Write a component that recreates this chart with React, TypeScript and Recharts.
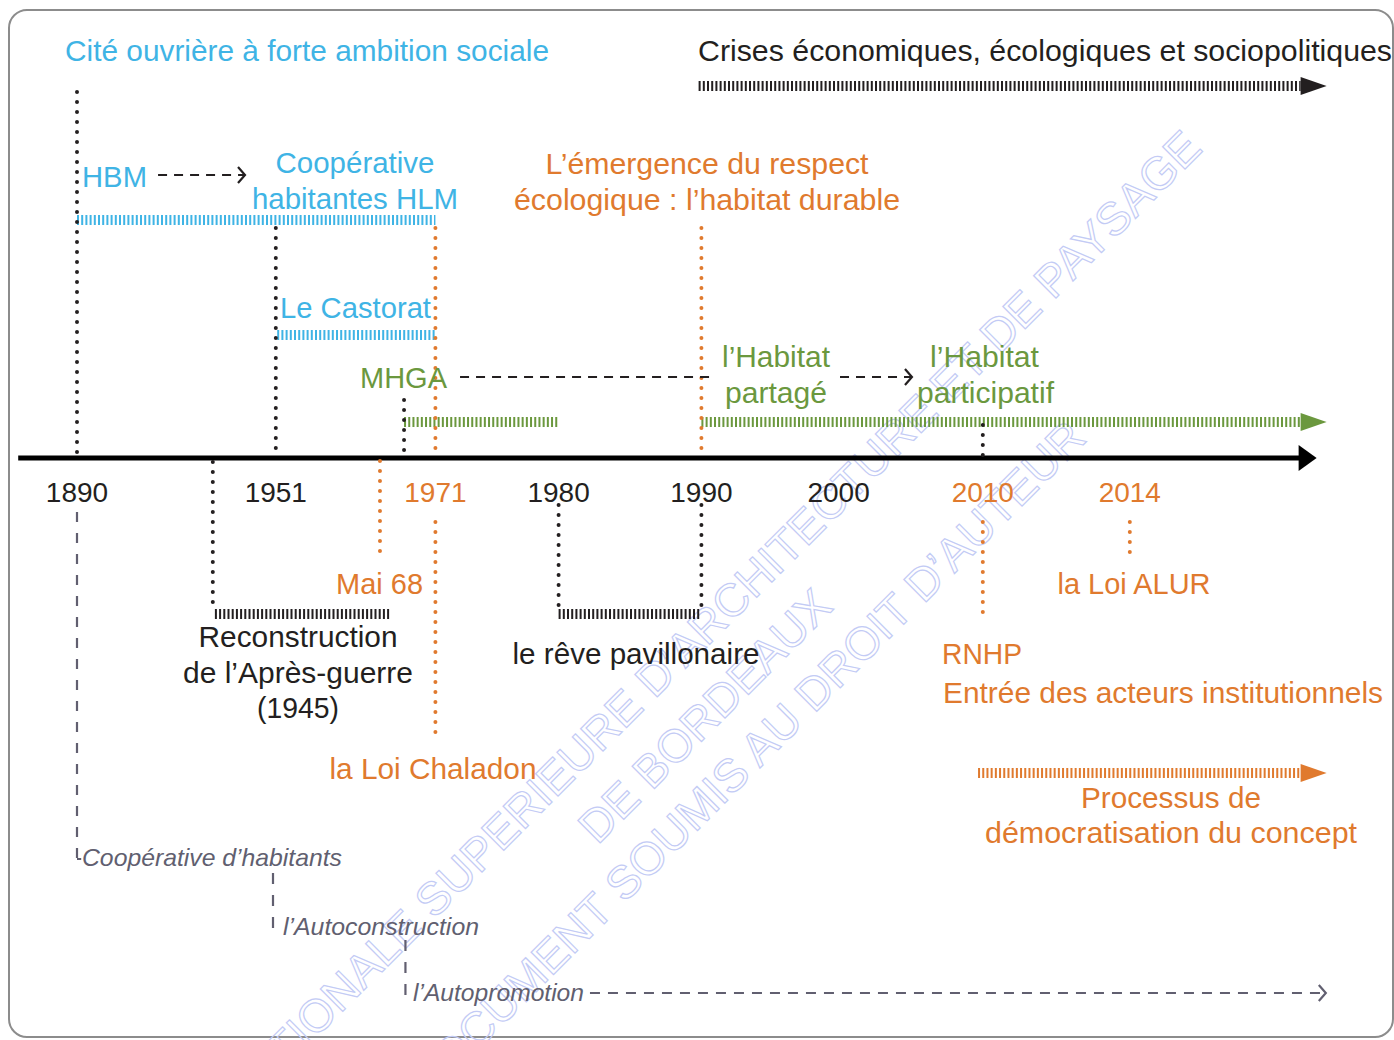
import React from 'react';
import { ComposedChart, XAxis, YAxis, ReferenceLine, Scatter } from 'recharts';

const W = 1394;
const H = 1040;

// labelled years and their place on the (non-linear) timeline, one unit ~ one step
const tickYears = ['1890', '1951', '1971', '1980', '1990', '2000', '2010', '2014'];
const tickPos = [0, 1.42, 2.56, 3.44, 4.46, 5.44, 6.47, 7.52];
const orangeYears = ['1971', '2010', '2014'];

// unlabelled events on the axis
const eventNames = ['Après-guerre (1945)', 'Mai 68', 'MHGA'];
const eventPos = [0.97, 2.164, 2.336];

// open-ended periods run to here
const timelineEnd = 8.74;

// periods drawn as hatched bars
const periodNames = ['HBM / HLM', 'Le Castorat', 'MHGA', 'Habitat partagé / participatif', 'Crises', 'Reconstruction', 'Rêve pavillonaire', 'Démocratisation'];
const periodStart = [0, 1.43, 2.336, 4.46, 4.44, 0.985, 3.44, 6.436];
const periodEnd = [2.56, 2.56, 3.44, timelineEnd, timelineEnd, 2.236, 4.46, timelineEnd];

const BLUE = '#3fb4e5';
const ORANGE = '#e07a2e';
const GREEN = '#6b983e';
const INK = '#231f20';
const GREY = '#615f70';
const FONT = '"Liberation Sans", Arial, Helvetica, sans-serif';

// layout (pixel rows) for the periods
const periodLane = [220, 335, 422, 422, 86, 614, 614, 773];
const periodColor = [BLUE, BLUE, GREEN, GREEN, INK, INK, INK, ORANGE];
const periodArrow = [false, false, false, true, true, false, false, true];

// dotted markers: position on the timeline + vertical extent
const markers = [
  { at: tickPos[0], from: 92, to: 456, color: INK },
  { at: tickPos[1], from: 228, to: 456, color: INK },
  { at: eventPos[2], from: 400, to: 456, color: INK },
  { at: tickPos[6], from: 425, to: 456, color: INK },
  { at: eventPos[0], from: 462, to: 612, color: INK },
  { at: tickPos[3], from: 505, to: 612, color: INK },
  { at: tickPos[4], from: 505, to: 612, color: INK },
  { at: tickPos[2], from: 228, to: 456, color: ORANGE },
  { at: tickPos[2], from: 522, to: 738, color: ORANGE },
  { at: tickPos[4], from: 228, to: 456, color: ORANGE },
  { at: eventPos[1], from: 461, to: 560, color: ORANGE },
  { at: tickPos[6], from: 522, to: 620, color: ORANGE },
  { at: tickPos[7], from: 522, to: 562, color: ORANGE },
];

const AXIS_Y = 458;
const TICK_LANE = 502;
const X_MIN = -0.55;
const X_MAX = 9.407;

const tickRows = tickYears.map((label, i) => ({ pos: tickPos[i], lane: TICK_LANE, label }));

const dotted = (color: string) => (p: any) => (
  <line x1={p.x1} y1={p.y1} x2={p.x2} y2={p.y2} stroke={color} strokeWidth={4} strokeDasharray="0 10" strokeLinecap="round" />
);

const hatch = (color: string, arrow: boolean) => (p: any) => (
  <g>
    <line x1={p.x1} y1={p.y1} x2={p.x2} y2={p.y2} stroke={color} strokeWidth={10} strokeDasharray="2 2.2" />
    {arrow && <polygon points={`${p.x2},${p.y2 - 9} ${p.x2 + 26},${p.y2} ${p.x2},${p.y2 + 9}`} fill={color} />}
  </g>
);

const dashed = (color: string, dash: string, head: boolean) => (p: any) => (
  <g>
    <line x1={p.x1} y1={p.y1} x2={p.x2} y2={p.y2} stroke={color} strokeWidth={2.2} strokeDasharray={dash} />
    {head && (
      <polyline
        points={`${p.x2 - 7},${p.y2 - 8} ${p.x2},${p.y2} ${p.x2 - 7},${p.y2 + 8}`}
        fill="none"
        stroke={color}
        strokeWidth={2.2}
      />
    )}
  </g>
);

const mainAxis = (p: any) => (
  <g>
    <line x1={p.x1} y1={p.y1} x2={p.x2} y2={p.y2} stroke="#000" strokeWidth={5} />
    <polygon points={`${p.x2 - 2},${p.y2 - 13} ${p.x2 + 16},${p.y2} ${p.x2 - 2},${p.y2 + 13}`} fill="#000" />
  </g>
);

const tickShape = (p: any) => (
  <text
    x={p.cx}
    y={p.cy}
    textAnchor="middle"
    fontFamily={FONT}
    fontSize={28}
    fill={orangeYears.includes(p.payload.label) ? ORANGE : INK}
  >
    {p.payload.label}
  </text>
);

type Label = { t: string; x: number; y: number; c: string; len?: number; a?: 'start' | 'middle' | 'end'; s?: number; i?: boolean };

const labels: Label[] = [
  { t: 'Cité ouvrière à forte ambition sociale', x: 65, y: 61, c: BLUE, len: 484 },
  { t: 'Crises économiques, écologiques et sociopolitiques', x: 698, y: 61, c: INK, len: 694 },
  { t: 'HBM', x: 82, y: 187, c: BLUE, len: 65 },
  { t: 'Coopérative', x: 355, y: 173, c: BLUE, len: 159, a: 'middle' },
  { t: 'habitantes HLM', x: 355, y: 209, c: BLUE, len: 206, a: 'middle' },
  { t: 'L’émergence du respect', x: 707, y: 174, c: ORANGE, len: 323, a: 'middle' },
  { t: 'écologique : l’habitat durable', x: 707, y: 210, c: ORANGE, len: 386, a: 'middle' },
  { t: 'Le Castorat', x: 280, y: 318, c: BLUE, len: 151 },
  { t: 'MHGA', x: 447, y: 388, c: GREEN, len: 87, a: 'end' },
  { t: 'l’Habitat', x: 722, y: 367, c: GREEN, len: 108 },
  { t: 'partagé', x: 776, y: 403, c: GREEN, len: 102, a: 'middle' },
  { t: 'l’Habitat', x: 930, y: 367, c: GREEN, len: 109 },
  { t: 'participatif', x: 917, y: 403, c: GREEN, len: 137 },
  { t: 'Mai 68', x: 423, y: 594, c: ORANGE, len: 87, a: 'end' },
  { t: 'Reconstruction', x: 298, y: 647, c: INK, len: 199, a: 'middle' },
  { t: 'de l’Après-guerre', x: 298, y: 683, c: INK, len: 230, a: 'middle' },
  { t: '(1945)', x: 298, y: 718, c: INK, len: 82, a: 'middle' },
  { t: 'le rêve pavillonaire', x: 636, y: 664, c: INK, len: 247, a: 'middle' },
  { t: 'la Loi Chaladon', x: 433, y: 779, c: ORANGE, len: 207, a: 'middle' },
  { t: 'la Loi ALUR', x: 1134, y: 594, c: ORANGE, len: 153, a: 'middle' },
  { t: 'RNHP', x: 942, y: 664, c: ORANGE, len: 80 },
  { t: 'Entrée des acteurs institutionnels', x: 943, y: 703, c: ORANGE, len: 440 },
  { t: 'Processus de', x: 1171, y: 808, c: ORANGE, len: 180, a: 'middle' },
  { t: 'démocratisation du concept', x: 1171, y: 843, c: ORANGE, len: 372, a: 'middle' },
  { t: 'Coopérative d’habitants', x: 82, y: 866, c: GREY, len: 260, s: 24, i: true },
  { t: 'l’Autoconstruction', x: 283, y: 935, c: GREY, len: 196, s: 24, i: true },
  { t: 'l’Autopromotion', x: 413, y: 1001, c: GREY, len: 171, s: 24, i: true },
];

const watermark = [
  { t: 'ECOLE NATIONALE SUPERIEURE D’ARCHITECTURE ET DE PAYSAGE', x: 1204, y: 150, a: 'end' },
  { t: 'DE BORDEAUX', x: 716, y: 727, a: 'middle' },
  { t: 'DOCUMENT SOUMIS AU DROIT D’AUTEUR', x: 1088, y: 440, a: 'end' },
];

export default function App() {
  return (
    <div style={{ position: 'absolute', left: 0, top: 0, width: W, height: H, background: '#fff', overflow: 'hidden' }}>
      <svg width={W} height={H} style={{ position: 'absolute', left: 0, top: 0 }}>
        <rect x={9} y={10} width={1384} height={1027} rx={18} fill="none" stroke="#8c8c8c" strokeWidth={2} />
        {watermark.map((w) => (
          <text
            key={w.t}
            x={w.x}
            y={w.y}
            transform={`rotate(-45 ${w.x} ${w.y})`}
            textAnchor={w.a as any}
            fontFamily={FONT}
            fontSize={46}
            fill="none"
            stroke="#c3cbf5"
            strokeWidth={1.2}
          >
            {w.t}
          </text>
        ))}
      </svg>
      <div style={{ position: 'absolute', left: 0, top: 0 }}>
        <ComposedChart width={W} height={H} margin={{ top: 0, right: 0, bottom: 0, left: 0 }} data={tickRows}>
          <XAxis type="number" dataKey="pos" domain={[X_MIN, X_MAX]} allowDataOverflow hide />
          <YAxis type="number" dataKey="lane" domain={[0, H]} reversed allowDataOverflow hide />

          {/* main timeline */}
          <ReferenceLine segment={[{ x: -0.42, y: AXIS_Y }, { x: 8.74, y: AXIS_Y }]} shape={mainAxis} ifOverflow="visible" />

          {/* periods */}
          {periodNames.map((name, i) => (
            <ReferenceLine
              key={name}
              segment={[{ x: periodStart[i], y: periodLane[i] }, { x: periodEnd[i], y: periodLane[i] }]}
              shape={hatch(periodColor[i], periodArrow[i])}
              ifOverflow="visible"
            />
          ))}

          {/* dotted markers */}
          {markers.map((m, i) => (
            <ReferenceLine
              key={`m${i}`}
              segment={[{ x: m.at, y: m.from }, { x: m.at, y: m.to }]}
              shape={dotted(m.color)}
              ifOverflow="visible"
            />
          ))}

          {/* black dashed transitions */}
          <ReferenceLine segment={[{ x: 0.579, y: 175 }, { x: 1.2, y: 175 }]} shape={dashed(INK, '9 7', true)} ifOverflow="visible" />
          <ReferenceLine segment={[{ x: 2.736, y: 377 }, { x: 4.54, y: 377 }]} shape={dashed(INK, '9 7', false)} ifOverflow="visible" />
          <ReferenceLine segment={[{ x: 5.45, y: 377 }, { x: 5.964, y: 377 }]} shape={dashed(INK, '9 7', true)} ifOverflow="visible" />

          {/* grey lineage of cooperative forms */}
          <ReferenceLine segment={[{ x: tickPos[0], y: 512 }, { x: tickPos[0], y: 859 }]} shape={dashed(GREY, '10 11', false)} ifOverflow="visible" />
          <ReferenceLine segment={[{ x: tickPos[0], y: 859 }, { x: 0.03, y: 859 }]} shape={dashed(GREY, '4 0', false)} ifOverflow="visible" />
          <ReferenceLine segment={[{ x: 1.4, y: 873 }, { x: 1.4, y: 931 }]} shape={dashed(GREY, '11 11', false)} ifOverflow="visible" />
          <ReferenceLine segment={[{ x: eventPos[2] + 0.01, y: 940 }, { x: eventPos[2] + 0.01, y: 997 }]} shape={dashed(GREY, '11 11', false)} ifOverflow="visible" />
          <ReferenceLine segment={[{ x: 3.664, y: 993 }, { x: 8.92, y: 993 }]} shape={dashed(GREY, '10 8', true)} ifOverflow="visible" />

          <Scatter data={tickRows} isAnimationActive={false} shape={tickShape} />
        </ComposedChart>
      </div>
      <svg width={W} height={H} style={{ position: 'absolute', left: 0, top: 0, pointerEvents: 'none' }}>
        {labels.map((l, i) => (
          <text
            key={i}
            x={l.x}
            y={l.y}
            textAnchor={l.a || 'start'}
            fontFamily={FONT}
            fontSize={l.s || 30}
            fontStyle={l.i ? 'italic' : 'normal'}
            fill={l.c}
            textLength={l.len}
            lengthAdjust="spacingAndGlyphs"
          >
            {l.t}
          </text>
        ))}
      </svg>
    </div>
  );
}
